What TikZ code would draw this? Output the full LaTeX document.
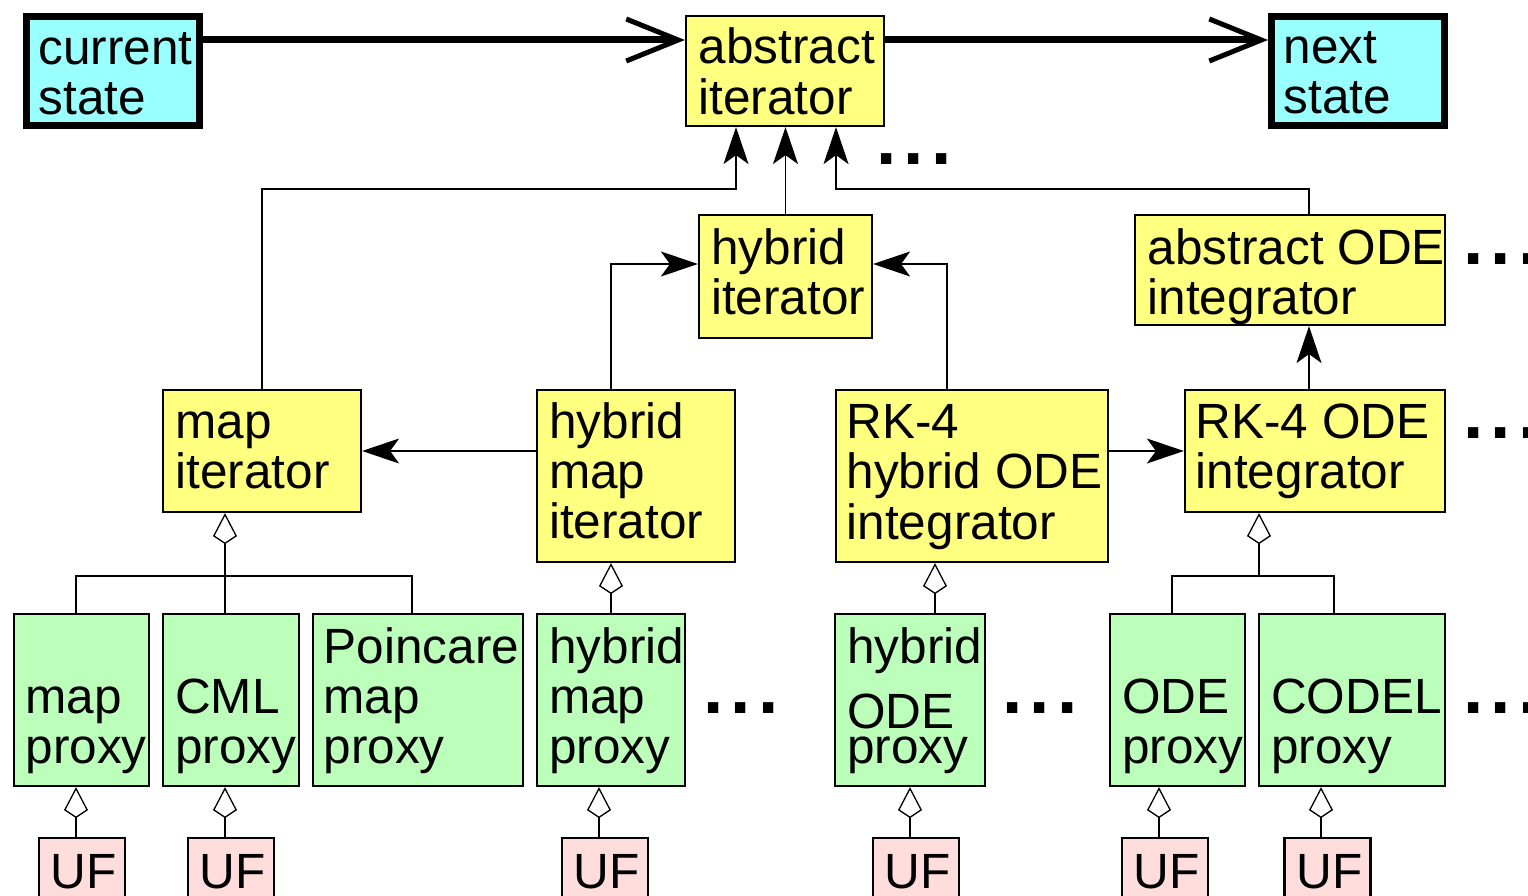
\documentclass[tikz,border=0pt]{standalone}
\usepackage{fontspec}
\setmainfont{Liberation Sans}
\usetikzlibrary{arrows.meta}
\definecolor{cyanfill}{RGB}{153,255,255}
\definecolor{yellowfill}{RGB}{255,255,128}
\definecolor{greenfill}{RGB}{187,255,187}
\definecolor{pinkfill}{RGB}{255,221,221}
\newcommand\ml[1]{\begin{tabular}[t]{@{}l@{}}#1\end{tabular}}
\newcommand\dotrow{.\hspace{7.2pt}.\hspace{7.2pt}.}
\begin{document}
\begin{tikzpicture}[x=1pt,y=-1pt,
  box/.style={draw, line width=2.2pt, inner sep=0pt},
  thickbox/.style={draw, line width=7pt, inner sep=0pt, fill=cyanfill},
  ybox/.style={box, fill=yellowfill},
  gbox/.style={box, fill=greenfill},
  pbox/.style={box, fill=pinkfill},
  txt/.style={anchor=base west, inner sep=0pt, xshift=1.5pt, yshift=-1pt, font=\fontsize{49.5}{50}\selectfont},
  dots/.style={anchor=base west, inner sep=0pt, font=\fontsize{73}{73}\selectfont\bfseries},
  flow/.style={line width=7pt, -{Straight Barb[length=52pt, width=42pt, line width=5pt]}},
  dep/.style={line width=1.3pt, -{Stealth[length=37pt, width=25pt, inset=9pt]}},
  inh/.style={line width=1.3pt, -{Kite[open, length=31pt, width=24pt, inset=8pt]}},
  link/.style={line width=1.3pt},
]
\clip (0,0) rectangle (1528,896);
\fill[white] (0,0) rectangle (1528,896);

% ---- boxes ----
\node[thickbox, minimum width=173pt, minimum height=109pt] (cur) at (113,71) {};
\node[thickbox, minimum width=173pt, minimum height=109pt] (next) at (1358,71) {};
\node[ybox, minimum width=198pt, minimum height=110pt] (absit) at (785,71) {};
\node[ybox, minimum width=173pt, minimum height=123pt] (hit) at (785.5,276.5) {};
\node[ybox, minimum width=310pt, minimum height=110pt] (aode) at (1290,270) {};
\node[ybox, minimum width=198pt, minimum height=122pt] (mit) at (262,451) {};
\node[ybox, minimum width=198pt, minimum height=172pt] (hmit) at (636,476) {};
\node[ybox, minimum width=272pt, minimum height=172pt] (rkh) at (972,476) {};
\node[ybox, minimum width=260pt, minimum height=122pt] (rko) at (1315,451) {};
\node[gbox, minimum width=135pt, minimum height=172pt] (mp) at (81.5,700) {};
\node[gbox, minimum width=136pt, minimum height=172pt] (cml) at (231,700) {};
\node[gbox, minimum width=210pt, minimum height=172pt] (pmp) at (418,700) {};
\node[gbox, minimum width=148pt, minimum height=172pt] (hmp) at (611,700) {};
\node[gbox, minimum width=150pt, minimum height=172pt] (hop) at (910,700) {};
\node[gbox, minimum width=135pt, minimum height=172pt] (odep) at (1177.5,700) {};
\node[gbox, minimum width=186pt, minimum height=172pt] (codel) at (1352,700) {};
\node[pbox, minimum width=86pt, minimum height=111pt] (uf1) at (82,893.5) {};
\node[pbox, minimum width=86pt, minimum height=111pt] (uf2) at (231,893.5) {};
\node[pbox, minimum width=86pt, minimum height=111pt] (uf3) at (605,893.5) {};
\node[pbox, minimum width=86pt, minimum height=111pt] (uf4) at (916,893.5) {};
\node[pbox, minimum width=86pt, minimum height=111pt] (uf5) at (1165,893.5) {};
\node[pbox, minimum width=86pt, minimum height=111pt] (uf6) at (1327.5,893.5) {};

% ---- texts ----
\node[txt] (tcur) at (37,64) {\ml{current\\state}};
\node[txt] (tnext) at (1282,63) {\ml{next\\state}};
\node[txt] (tabsit) at (697,63) {\ml{abstract\\iterator}};
\node[txt] (thit) at (709.5,263) {\ml{hybrid\\iterator}};
\node[txt] (taode) at (1146,263) {\ml{abstract ODE\\integrator}};
\node[txt] (tmit) at (174,437) {\ml{map\\iterator}};
\node[txt] (thmit) at (547.5,437) {\ml{hybrid\\map\\iterator}};
\node[txt] (trkh) at (845,437) {\ml{RK-4\\hybrid ODE\\integrator}};
\node[txt] (trko) at (1194,437) {\ml{RK-4 ODE\\integrator}};
\node[txt] (tmp) at (24,712) {\ml{map\\proxy}};
\node[txt] (tcml) at (173.5,712) {\ml{CML\\proxy}};
\node[txt] (tpmp) at (322,662) {\ml{Poincare\\map\\proxy}};
\node[txt] (thmp) at (547.5,662) {\ml{hybrid\\map\\proxy}};
\node[txt] (thop) at (845.5,662) {\ml{hybrid\\\smash{\raisebox{-15pt}{ODE}}\\proxy}};
\node[txt] (todep) at (1120.5,712) {\ml{ODE\\proxy}};
\node[txt] (tcodel) at (1269.5,712) {\ml{CODEL\\proxy}};
\node[txt] (tuf1) at (49,887) {UF};
\node[txt] (tuf2) at (198,887) {UF};
\node[txt] (tuf3) at (572,887) {UF};
\node[txt] (tuf4) at (883,887) {UF};
\node[txt] (tuf5) at (1132,887) {UF};
\node[txt] (tuf6) at (1295,887) {UF};

% ---- dots ----
\node[dots] (d1) at (876,165) {\dotrow};
\node[dots] (d2) at (1463,264) {\dotrow};
\node[dots] (d3) at (1463,438) {\dotrow};
\node[dots] (d4) at (703,713) {\dotrow};
\node[dots] (d5) at (1002,713) {\dotrow};
\node[dots] (d6) at (1463,713) {\dotrow};

% ---- flow arrows ----
\draw[flow] (cur.east |- 0,40) -- (absit.west |- 0,40);
\draw[flow] (absit.east |- 0,40) -- (next.west |- 0,40);

% ---- dependency arrows ----
\draw[dep] (mit.north) -- (262,189) -- (736,189) -- (absit.south -| 736,0);
\draw[dep] (hit.north) -- (hit.north |- absit.south);
\draw[dep] (aode.north -| 1309,0) -- (1309,189) -- (836,189) -- (absit.south -| 836,0);
\draw[dep] (hmit.north -| 611,0) -- (611,264) -- (hit.west |- 0,264);
\draw[dep] (rkh.north -| 947,0) -- (947,264) -- (hit.east |- 0,264);
\draw[dep] (hmit.west |- mit.east) -- (mit.east);
\draw[dep] (rkh.east |- rko.west) -- (rko.west);
\draw[dep] (rko.north -| 1309,0) -- (aode.south -| 1309,0);

% ---- inheritance ----
\coordinate (j1) at (225,576);
\coordinate (j2) at (1259,576);
\draw[link] (mp.north -| 76,0) -- (76,576) -- (412,576) -- (pmp.north -| 412,0);
\draw[link] (cml.north -| j1) -- (j1);
\draw[inh] (j1) -- (mit.south -| j1);
\draw[inh] (hmp.north) -- (hmit.south -| hmp.north);
\draw[inh] (hop.north -| 935,0) -- (rkh.south -| 935,0);
\draw[link] (odep.north -| 1172,0) -- (1172,576) -- (1334,576) -- (codel.north -| 1334,0);
\draw[inh] (j2) -- (rko.south -| j2);
\draw[inh] (uf1.north -| 76,0) -- (mp.south -| 76,0);
\draw[inh] (uf2.north -| 225,0) -- (cml.south -| 225,0);
\draw[inh] (uf3.north -| 599,0) -- (hmp.south -| 599,0);
\draw[inh] (uf4.north -| 910,0) -- (hop.south -| 910,0);
\draw[inh] (uf5.north -| 1159,0) -- (odep.south -| 1159,0);
\draw[inh] (uf6.north -| 1321,0) -- (codel.south -| 1321,0);
\end{tikzpicture}
\end{document}
